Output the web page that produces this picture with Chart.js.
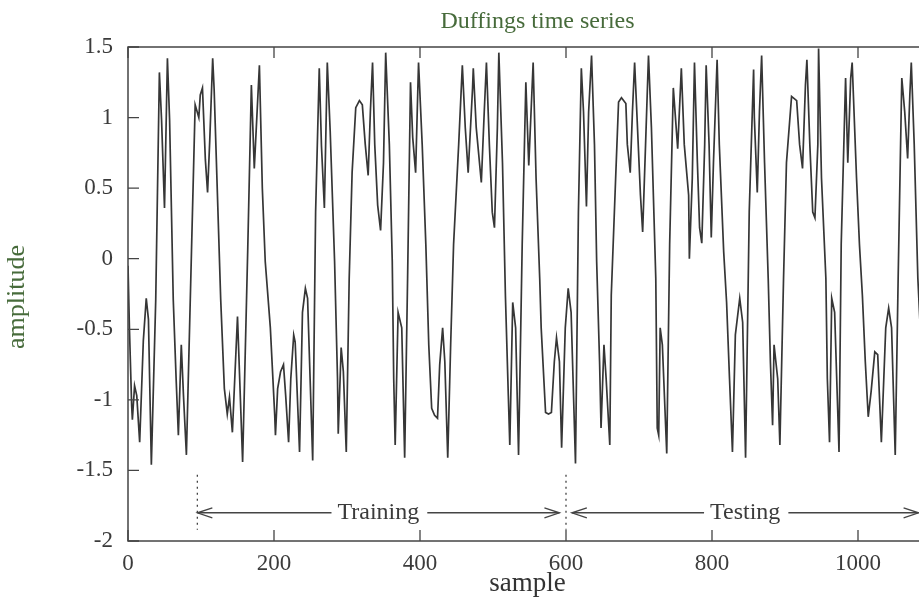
<!DOCTYPE html>
<html>
<head>
<meta charset="utf-8">
<title>Duffings time series</title>
<script src="https://cdn.jsdelivr.net/npm/chart.js@4.4.1/dist/chart.umd.min.js"></script>
<style>
  html, body { margin: 0; padding: 0; background: #fff; overflow: hidden; }
  #wrap { width: 940px; height: 600px; }
</style>
</head>
<body>
<div id="wrap"><canvas id="chart" width="940" height="600"></canvas></div>
<script>
// duffing series -- vertices (peaks, troughs, bends)
const sampleIdx = [
  0, 2, 5, 6, 9, 12, 16, 21, 25, 28,
  32, 38, 43, 46, 50, 54, 57, 62, 66, 69,
  73, 76, 80, 87, 92, 97, 99, 102, 106, 109,
  112, 116, 118, 127, 132, 136, 139, 143, 150, 157,
  164, 169, 173, 180, 184, 188, 195, 198, 201, 202,
  205, 209, 213, 216, 220, 223, 227, 229, 235, 239,
  243, 246, 253, 257, 262, 265, 269, 273, 277, 283,
  287, 288, 292, 295, 299, 303, 307, 312, 317, 321,
  325, 329, 332, 335, 338, 342, 346, 350, 353, 358,
  362, 364, 366, 370, 375, 379, 383, 387, 390, 394,
  398, 403, 408, 412, 416, 420, 424, 427, 431, 434,
  438, 442, 446, 453, 458, 462, 466, 472, 473, 477,
  484, 488, 491, 495, 499, 502, 506, 508, 513, 517,
  521, 523, 527, 531, 535, 540, 545, 549, 555, 559,
  564, 566, 572, 576, 580, 584, 587, 591, 594, 599,
  603, 607, 613, 617, 621, 624, 628, 631, 635, 639,
  642, 646, 648, 652, 655, 660, 662, 668, 672, 676,
  682, 684, 688, 691, 694, 697, 702, 705, 709, 713,
  717, 723, 725, 727, 729, 732, 738, 742, 747, 753,
  758, 762, 768, 769, 773, 776, 780, 783, 786, 790,
  792, 796, 799, 802, 807, 810, 816, 820, 824, 828,
  832, 838, 842, 846, 851, 857, 858, 862, 865, 868,
  872, 877, 880, 883, 885, 890, 893, 898, 902, 909,
  916, 920, 924, 928, 930, 934, 938, 941, 945, 946,
  950, 956, 958, 961, 964, 968, 974, 977, 983, 986,
  990, 992, 998, 1002, 1006, 1010, 1014, 1018, 1023, 1027,
  1032, 1038, 1042, 1046, 1051, 1055, 1060, 1064, 1068, 1071,
  1073, 1077, 1082, 1090,
];
const amplitude = [
  -0.05, -0.5, -1.04, -1.14, -0.9, -0.97, -1.3, -0.58, -0.28, -0.43,
  -1.46, -0.29, 1.32, 0.98, 0.36, 1.42, 0.98, -0.29, -0.86, -1.25,
  -0.61, -0.97, -1.39, 0.06, 1.09, 1.0, 1.16, 1.21, 0.7, 0.47,
  0.84, 1.42, 1.2, -0.29, -0.92, -1.1, -0.98, -1.23, -0.41, -1.44,
  0.06, 1.23, 0.64, 1.37, 0.5, -0.02, -0.49, -0.8, -1.11, -1.25,
  -0.92, -0.8, -0.75, -0.97, -1.3, -0.85, -0.54, -0.59, -1.37, -0.38,
  -0.21, -0.28, -1.43, 0.33, 1.35, 0.8, 0.36, 1.39, 0.9, -0.02,
  -0.85, -1.24, -0.63, -0.8, -1.37, -0.14, 0.61, 1.07, 1.12, 1.09,
  0.81, 0.59, 1.04, 1.39, 0.81, 0.38, 0.2, 0.68, 1.46, 0.81,
  -0.02, -0.85, -1.32, -0.38, -0.49, -1.41, -0.14, 1.25, 0.86, 0.61,
  1.39, 0.81, 0.1, -0.61, -1.06, -1.11, -1.13, -0.75, -0.49, -0.73,
  -1.41, -0.61, 0.1, 0.81, 1.37, 0.93, 0.61, 1.21, 1.35, 0.93,
  0.54, 1.04, 1.39, 0.81, 0.33, 0.22, 0.93, 1.46, 0.68, -0.26,
  -0.97, -1.32, -0.31, -0.49, -1.39, 0.1, 1.25, 0.66, 1.39, 0.57,
  -0.14, -0.49, -1.09, -1.1, -1.09, -0.73, -0.56, -0.73, -1.34, -0.49,
  -0.21, -0.38, -1.45, 0.33, 1.35, 1.04, 0.37, 1.04, 1.44, 0.81,
  -0.02, -0.73, -1.2, -0.61, -0.85, -1.32, -0.26, 0.57, 1.11, 1.14,
  1.1, 0.81, 0.61, 1.04, 1.39, 1.04, 0.45, 0.19, 0.81, 1.44,
  0.93, -0.14, -1.2, -1.25, -0.49, -0.61, -1.38, 0.1, 1.21, 0.78,
  1.35, 0.81, 0.45, 0.0, 0.57, 1.39, 0.68, 0.22, 0.11, 0.81,
  1.37, 0.81, 0.15, 0.68, 1.41, 0.81, 0.05, -0.31, -0.85, -1.37,
  -0.54, -0.28, -0.45, -1.41, 0.33, 1.34, 1.0, 0.47, 1.04, 1.44,
  0.68, -0.14, -0.73, -1.18, -0.61, -0.85, -1.32, -0.14, 0.68, 1.15,
  1.12, 0.81, 0.64, 1.23, 1.41, 0.81, 0.33, 0.29, 0.81, 1.49,
  0.57, -0.14, -0.85, -1.3, -0.28, -0.38, -1.37, 0.1, 1.28, 0.68,
  1.28, 1.39, 0.57, 0.1, -0.26, -0.73, -1.12, -0.94, -0.66, -0.68,
  -1.3, -0.49, -0.35, -0.49, -1.39, -0.14, 1.28, 1.04, 0.71, 1.16,
  1.39, 0.81, -0.14, -1.0,
];

const xTicks = [0, 200, 400, 600, 800, 1000];
const yTicks = [-2, -1.5, -1, -0.5, 0, 0.5, 1, 1.5];

// training / testing split marks and arrows
const splitMarks = [95, 600];
const spanLabels = ['Training', 'Testing'];
const spanFrom = [95, 608];
const spanTo = [591, 1083];
const arrowLevel = -1.8;

const SERIF = '"Liberation Serif", "Times New Roman", serif';
const INK = '#3b3b3b';
const GREEN = '#476b3b';
const TICK = 11;

function arrowHead(ctx, x, y, dir) {
  ctx.beginPath();
  ctx.moveTo(x - dir * 15, y - 5);
  ctx.lineTo(x, y);
  ctx.lineTo(x - dir * 15, y + 5);
  ctx.stroke();
}

const frame = {
  id: 'frame',
  afterDatasetsDraw(chart) {
    const { ctx, chartArea: a, scales: { x, y } } = chart;
    ctx.save();
    ctx.strokeStyle = '#444';
    ctx.lineWidth = 1.5;
    ctx.strokeRect(a.left, a.top, a.right - a.left, a.bottom - a.top);

    // inward ticks on all four sides
    ctx.lineWidth = 1.3;
    ctx.beginPath();
    for (const v of xTicks) {
      const px = x.getPixelForValue(v);
      ctx.moveTo(px, a.bottom); ctx.lineTo(px, a.bottom - TICK);
      ctx.moveTo(px, a.top); ctx.lineTo(px, a.top + TICK);
    }
    for (const v of yTicks) {
      const py = y.getPixelForValue(v);
      ctx.moveTo(a.left, py); ctx.lineTo(a.left + TICK, py);
      ctx.moveTo(a.right, py); ctx.lineTo(a.right - TICK, py);
    }
    ctx.stroke();

    // dotted split lines
    ctx.setLineDash([2, 4]);
    ctx.lineWidth = 1.3;
    for (const v of splitMarks) {
      const px = x.getPixelForValue(v);
      ctx.beginPath();
      ctx.moveTo(px, y.getPixelForValue(-1.53));
      ctx.lineTo(px, y.getPixelForValue(-1.92));
      ctx.stroke();
    }
    ctx.setLineDash([]);

    // arrows with labels in the middle
    const ay = y.getPixelForValue(arrowLevel);
    ctx.font = '24px ' + SERIF;
    ctx.fillStyle = INK;
    ctx.textAlign = 'center';
    ctx.textBaseline = 'middle';
    ctx.lineWidth = 1.3;
    spanLabels.forEach((lbl, i) => {
      const x0 = x.getPixelForValue(spanFrom[i]);
      const x1 = x.getPixelForValue(spanTo[i]);
      const mid = (x0 + x1) / 2;
      const w = ctx.measureText(lbl).width;
      ctx.fillText(lbl, mid, ay);
      ctx.beginPath();
      ctx.moveTo(x0, ay); ctx.lineTo(mid - w / 2 - 6, ay);
      ctx.moveTo(mid + w / 2 + 8, ay); ctx.lineTo(x1, ay);
      ctx.stroke();
      arrowHead(ctx, x0, ay, -1);
      arrowHead(ctx, x1, ay, 1);
    });

    // title and axis labels
    ctx.fillStyle = GREEN;
    ctx.font = '24px ' + SERIF;
    ctx.fillText('Duffings time series', (a.left + a.right) / 2 + 8, 22);
    ctx.save();
    ctx.translate(17, 297);
    ctx.rotate(-Math.PI / 2);
    ctx.font = '26px ' + SERIF;
    ctx.fillText('amplitude', 0, 0);
    ctx.restore();
    ctx.fillStyle = '#333';
    ctx.font = '27px ' + SERIF;
    ctx.fillText('sample', (a.left + a.right) / 2 - 2, 584);
    ctx.restore();
  },
};

new Chart(document.getElementById('chart'), {
  type: 'scatter',
  data: {
    datasets: [{
      data: sampleIdx.map((s, i) => ({ x: s, y: amplitude[i] })),
      showLine: true,
      borderColor: '#363636',
      borderWidth: 1.7,
      pointRadius: 0,
      tension: 0,
    }],
  },
  options: {
    responsive: false,
    animation: false,
    events: [],
    layout: { padding: { top: 47, right: 9, left: 0, bottom: 0 } },
    plugins: { legend: { display: false }, tooltip: { enabled: false } },
    scales: {
      x: {
        type: 'linear',
        min: 0,
        max: 1100,
        grid: { display: false },
        border: { display: false },
        afterBuildTicks: (s) => { s.ticks = xTicks.map((v) => ({ value: v })); },
        afterFit: (s) => { s.height = 59; },
        ticks: {
          color: INK,
          padding: 1,
          maxRotation: 0,
          font: { family: SERIF, size: 23 },
          callback: (v) => String(v),
        },
      },
      y: {
        min: -2,
        max: 1.5,
        grid: { display: false },
        border: { display: false },
        afterBuildTicks: (s) => { s.ticks = yTicks.map((v) => ({ value: v })); },
        afterFit: (s) => { s.width = 128; },
        ticks: {
          color: INK,
          padding: 7,
          font: { family: SERIF, size: 23 },
          callback: (v) => String(v),
        },
      },
    },
  },
  plugins: [frame],
});
</script>
</body>
</html>
